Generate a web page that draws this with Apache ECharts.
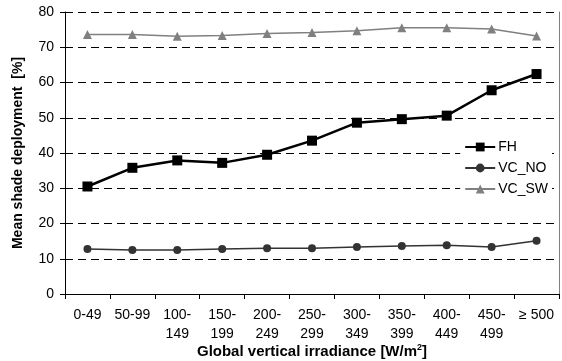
<!DOCTYPE html>
<html><head><meta charset="utf-8">
<script src="https://cdn.jsdelivr.net/npm/echarts@6/dist/echarts.min.js"></script>
<style>html,body{margin:0;padding:0;background:#fff}#c{width:562px;height:361px}</style>
</head><body><div id="c"></div>
<script>
var categories = ['0-49','50-99','100-\n149','150-\n199','200-\n249','250-\n299','300-\n349','350-\n399','400-\n449','450-\n499','\u2265 500'];
var fh = [30.5, 35.8, 37.9, 37.2, 39.5, 43.5, 48.6, 49.6, 50.6, 57.8, 62.4];
var vcNo = [12.8, 12.5, 12.5, 12.8, 13.0, 13.0, 13.3, 13.6, 13.8, 13.3, 15.1];
var vcSw = [73.6, 73.6, 73.1, 73.3, 73.9, 74.2, 74.7, 75.5, 75.5, 75.2, 73.2];
var yTicks = {min: 0, max: 80, interval: 10};

var chart = echarts.init(document.getElementById('c'), null, {renderer: 'canvas'});
var font = 'Liberation Sans, Arial, sans-serif';
chart.setOption({
  animation: false,
  textStyle: {fontFamily: font},
  grid: {left: 65, right: 3, top: 12, bottom: 67, containLabel: false, outerBoundsMode: 'none'},
  legend: {
    orient: 'vertical', right: 10, top: 137, itemGap: 7,
    itemWidth: 30, itemHeight: 11,
    backgroundColor: '#fff', padding: [3, 4, 3, 4],
    textStyle: {fontSize: 14, color: '#000', fontFamily: font, padding: [0, 0, 0, -2]},
    data: ['FH', 'VC_NO', 'VC_SW']
  },
  xAxis: {
    type: 'category', data: categories, boundaryGap: true,
    axisLine: {lineStyle: {color: '#000', width: 1}},
    axisTick: {show: true, inside: false, length: 5, lineStyle: {color: '#000'}, alignWithLabel: false},
    axisLabel: {color: '#000', fontSize: 14, lineHeight: 19, margin: 12, interval: 0, fontFamily: font},
    name: 'Global vertical irradiance [W/m{sup|2}]',
    nameLocation: 'middle', nameGap: 49, nameMoveOverlap: false,
    nameTextStyle: {fontWeight: 'bold', fontSize: 15, color: '#000', fontFamily: font,
      rich: {sup: {fontSize: 9, fontWeight: 'bold', color: '#000', verticalAlign: 'top', padding: [0, 0, 9, 0], fontFamily: font}}},
    splitLine: {show: false}
  },
  yAxis: [{
    type: 'value', min: yTicks.min, max: yTicks.max, interval: yTicks.interval,
    axisLine: {show: true, lineStyle: {color: '#000'}},
    axisTick: {show: true, length: 5, lineStyle: {color: '#000'}},
    axisLabel: {color: '#000', fontSize: 14, margin: 11, fontFamily: font},
    splitLine: {show: true, lineStyle: {color: '#000', type: [8, 5], width: 1}},
    name: 'Mean shade deployment  [%]', nameLocation: 'middle', nameGap: 40, nameMoveOverlap: false,
    nameTextStyle: {fontWeight: 'bold', fontSize: 14, color: '#000', fontFamily: font}
  }, {
    type: 'value', min: yTicks.min, max: yTicks.max, interval: yTicks.interval, position: 'right',
    axisLine: {show: true, lineStyle: {color: '#808080'}},
    axisTick: {show: false}, axisLabel: {show: false}, splitLine: {show: false}
  }],
  series: [{
    name: 'FH', type: 'line', data: fh, symbol: 'rect', symbolSize: 10,
    lineStyle: {color: '#000', width: 2.5}, itemStyle: {color: '#000'}, z: 3
  }, {
    name: 'VC_NO', type: 'line', data: vcNo, symbol: 'circle', symbolSize: 8,
    lineStyle: {color: '#333', width: 1.5}, itemStyle: {color: '#333'}, z: 2
  }, {
    name: 'VC_SW', type: 'line', data: vcSw, symbol: 'triangle', symbolSize: 9,
    lineStyle: {color: '#808080', width: 1.5}, itemStyle: {color: '#808080'}, z: 2
  }]
});
</script></body></html>
